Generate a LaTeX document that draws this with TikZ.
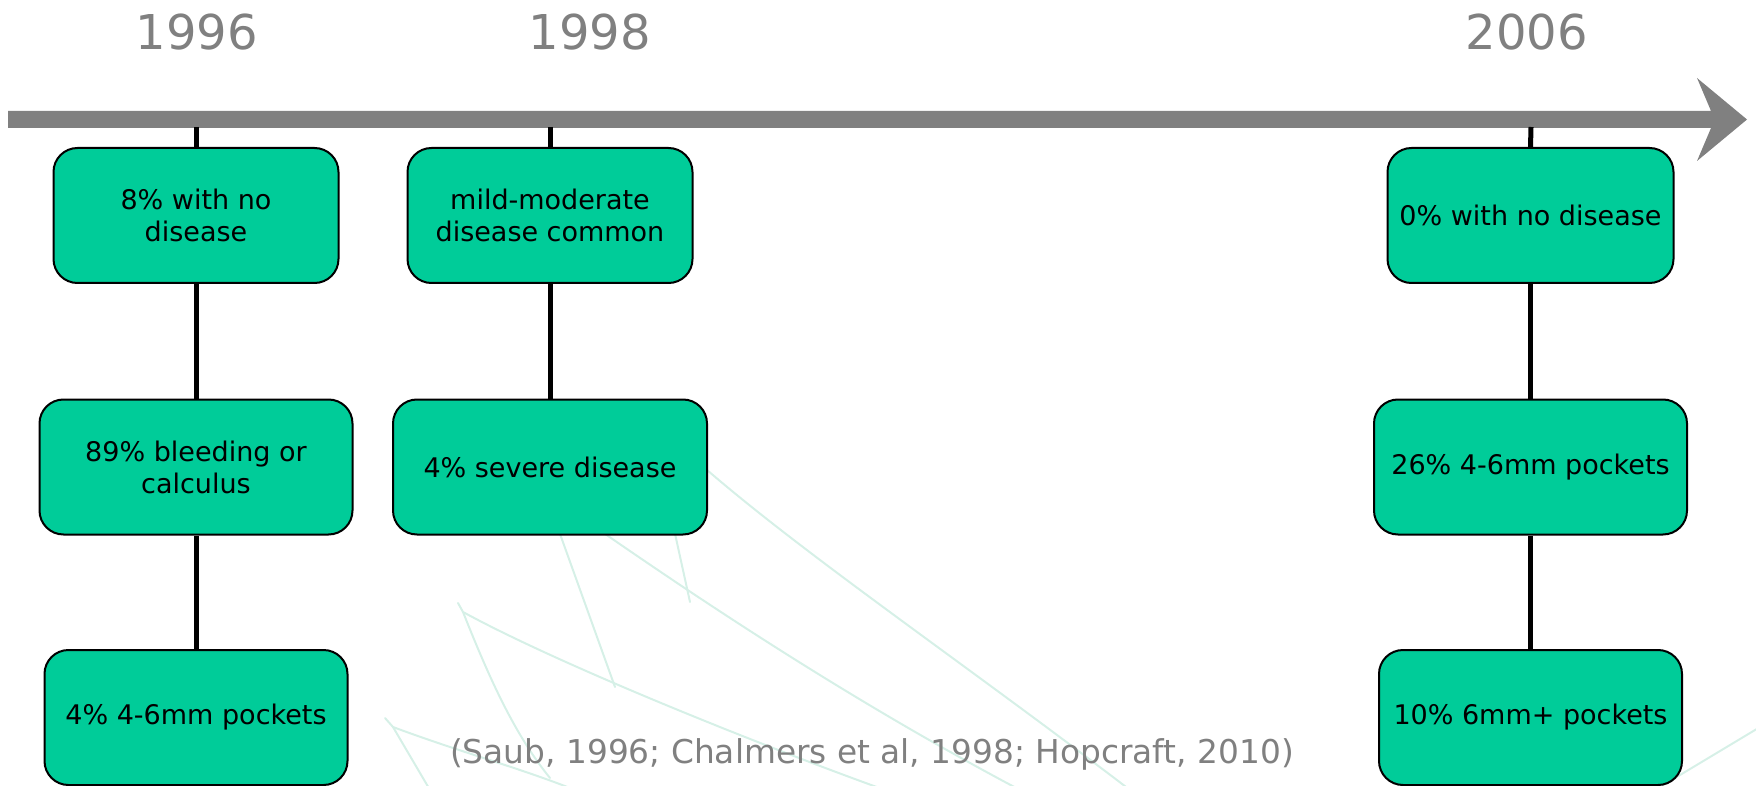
\documentclass[tikz,border=0pt]{standalone}
\usepackage{fontspec}
\setmainfont{DejaVu Sans}
\definecolor{boxfill}{HTML}{00CC99}
\definecolor{axisgray}{HTML}{808080}
\definecolor{leaf}{HTML}{D6F0E7}
\tikzset{
  evbox/.style={draw=black, line width=2pt, fill=boxfill, rounded corners=24pt,
    inner sep=0pt, minimum height=135pt, align=center,
    font=\fontsize{27}{32}\selectfont},
  yearlbl/.style={anchor=base, text=axisgray, inner sep=0pt, font=\fontsize{48}{58}\selectfont},
  link/.style={draw=black, line width=5pt},
  leafline/.style={draw=leaf, line width=2pt, line cap=round, line join=round}
}
\begin{document}
\begin{tikzpicture}[x=1pt,y=-1pt]
\useasboundingbox (0,0) rectangle (1756,786);
% faint background leaf lines
\draw[leafline] (690,455) .. controls (790,545) and (960,660) .. (1130,790);
\draw[leafline] (585,520) .. controls (700,600) and (850,700) .. (1020,790);
\draw[leafline] (672,520) -- (690,602);
\draw[leafline] (555,520) -- (615,687);
\draw[leafline] (458,603) -- (463,612) .. controls (560,665) and (760,745) .. (885,790);
\draw[leafline] (463,612) .. controls (490,680) and (515,735) .. (550,778);
\draw[leafline] (385,718) -- (393,727) .. controls (460,752) and (520,768) .. (575,790);
\draw[leafline] (393,727) -- (430,790);
\draw[leafline] (1655,790) -- (1760,727);
% time axis
\fill[axisgray] (8,111) -- (1711,111) -- (1697,78) -- (1747,119.5) -- (1697,161)
  -- (1711,128) -- (8,128) -- cycle;
\coordinate (tA) at (196,127);
\coordinate (tB) at (550,127);
\coordinate (tC) at (1531,127);
% year labels
\node[yearlbl] (y1) at (197,50) {1996};
\node[yearlbl] (y2) at (590,50) {1998};
\node[yearlbl] (y3) at (1527,50) {2006};
% boxes
\node[evbox, minimum width=285pt] (a1) at (196,215.5) {8\% with no\\disease};
\node[evbox, minimum width=313pt] (a2) at (196,467) {89\% bleeding or\\calculus};
\node[evbox, minimum width=303pt] (a3) at (196,717.5) {4\% 4-6mm pockets};
\node[evbox, minimum width=285pt] (b1) at (550,215.5) {mild-moderate\\disease common};
\node[evbox, minimum width=314pt] (b2) at (550,467) {4\% severe disease};
\node[evbox, minimum width=286pt] (c1) at (1530.5,215.5) {0\% with no disease};
\node[evbox, minimum width=313pt] (c2) at (1530.5,467) {26\% 4-6mm pockets};
\node[evbox, minimum width=303pt] (c3) at (1530.5,717.5) {10\% 6mm+ pockets};
% connectors
\draw[link] (tA) -- (a1.north);
\draw[link] (a1.south) -- (a2.north);
\draw[link] (a2.south) -- (a3.north);
\draw[link] (tB) -- (b1.north);
\draw[link] (b1.south) -- (b2.north);
\draw[link] (tC) -- (c1.north);
\draw[link] (c1.south) -- (c2.north);
\draw[link] (c2.south) -- (c3.north);
% citation
\node[anchor=base, text=axisgray, inner sep=0pt, font=\fontsize{32.8}{38}\selectfont] (cite) at (872,763)
  {(Saub, 1996; Chalmers et al, 1998; Hopcraft, 2010)};
\end{tikzpicture}
\end{document}
